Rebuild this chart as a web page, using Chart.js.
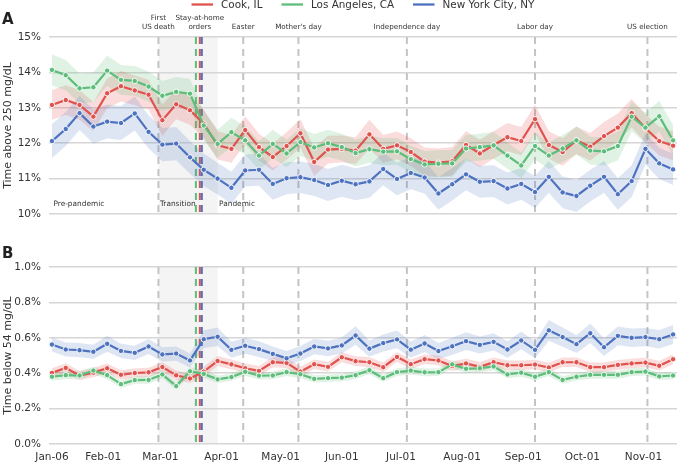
<!DOCTYPE html>
<html>
<head>
<meta charset="utf-8">
<style>
  html, body { margin: 0; padding: 0; background: #fff; }
  #wrap { position: relative; width: 677px; height: 463px; }
  #wrap canvas { position: absolute; left: 0; }
</style>
<script src="https://cdn.jsdelivr.net/npm/chart.js@4.4.1/dist/chart.umd.min.js"></script>
</head>
<body>
<div id="wrap">
  <canvas id="panel-a" width="677" height="232" style="top:0"></canvas>
  <canvas id="panel-b" width="677" height="231" style="top:232px"></canvas>
</div>
<script>
// weekly points, first week starts Jan 6 2020
const weekStart = "2020-01-06";

const cities = ["Cook, IL", "Los Angeles, CA", "New York City, NY"];
const colors = ["#e0524d", "#5dbd7a", "#4d72bf"];
const bandColors = ["rgba(224,82,77,0.2)", "rgba(93,189,122,0.2)", "rgba(77,114,191,0.18)"];

// A: time above 250 mg/dL (%)
const cookA = [13.08, 13.22, 13.08, 12.75, 13.41, 13.61, 13.49, 13.37, 12.65, 13.10, 12.93, 12.55, 11.94, 11.84, 12.37, 11.89,
  11.61, 11.92, 12.28, 11.47, 11.82, 11.84, 11.79, 12.25, 11.84, 11.94, 11.75, 11.48, 11.45, 11.49, 11.95, 11.71,
  11.95, 12.17, 12.06, 12.68, 11.95, 11.75, 12.08, 11.90, 12.20, 12.44, 12.85, 12.42, 12.06, 11.93];
const laA = [14.07, 13.92, 13.55, 13.58, 14.05, 13.79, 13.76, 13.60, 13.34, 13.45, 13.40, 12.50, 11.98, 12.31, 12.08, 11.65,
  11.98, 11.71, 12.03, 11.88, 12.00, 11.89, 11.72, 11.83, 11.76, 11.77, 11.55, 11.40, 11.42, 11.43, 11.85, 11.89,
  11.94, 11.65, 11.37, 11.92, 11.65, 11.85, 12.08, 11.79, 11.77, 11.92, 12.75, 12.44, 12.76, 12.08];
const nycA = [12.06, 12.40, 12.85, 12.47, 12.61, 12.57, 12.84, 12.32, 11.96, 11.99, 11.60, 11.25, 11.00, 10.74, 11.23, 11.25,
  10.85, 11.01, 11.04, 10.96, 10.82, 10.94, 10.84, 10.92, 11.27, 10.99, 11.16, 11.03, 10.58, 10.84, 11.12, 10.91,
  10.93, 10.72, 10.85, 10.62, 11.05, 10.61, 10.51, 10.80, 11.05, 10.56, 10.93, 11.84, 11.43, 11.26];

// half width of the shaded confidence band, panel A
const cookCiA = [0.42, 0.42, 0.42, 0.41, 0.42, 0.43, 0.42, 0.42, 0.44, 0.42, 0.41, 0.40, 0.40, 0.39, 0.39, 0.38,
  0.38, 0.39, 0.40, 0.40, 0.39, 0.38, 0.38, 0.41, 0.39, 0.39, 0.39, 0.40, 0.40, 0.40, 0.39, 0.39,
  0.39, 0.40, 0.40, 0.40, 0.39, 0.39, 0.39, 0.39, 0.40, 0.40, 0.40, 0.40, 0.41, 0.41];
const laCiA = [0.44, 0.43, 0.42, 0.42, 0.43, 0.42, 0.42, 0.42, 0.42, 0.42, 0.42, 0.41, 0.40, 0.41, 0.40, 0.40,
  0.40, 0.39, 0.39, 0.38, 0.38, 0.38, 0.38, 0.38, 0.38, 0.38, 0.38, 0.38, 0.38, 0.38, 0.38, 0.38,
  0.38, 0.37, 0.37, 0.38, 0.38, 0.38, 0.39, 0.39, 0.40, 0.41, 0.42, 0.42, 0.43, 0.43];
const nycCiA = [0.48, 0.48, 0.48, 0.48, 0.48, 0.48, 0.48, 0.47, 0.47, 0.47, 0.46, 0.46, 0.45, 0.45, 0.45, 0.45,
  0.45, 0.45, 0.45, 0.45, 0.45, 0.45, 0.45, 0.46, 0.46, 0.46, 0.46, 0.46, 0.46, 0.46, 0.45, 0.45,
  0.45, 0.45, 0.45, 0.45, 0.45, 0.45, 0.45, 0.45, 0.45, 0.45, 0.45, 0.44, 0.44, 0.44];

// B: time below 54 mg/dL (%)
const cookB = [0.402, 0.430, 0.387, 0.403, 0.428, 0.391, 0.401, 0.405, 0.435, 0.388, 0.370, 0.409, 0.469, 0.450, 0.428, 0.413,
  0.462, 0.458, 0.409, 0.451, 0.436, 0.490, 0.468, 0.462, 0.434, 0.492, 0.451, 0.479, 0.472, 0.440, 0.455, 0.436,
  0.462, 0.445, 0.445, 0.449, 0.432, 0.462, 0.462, 0.434, 0.434, 0.447, 0.455, 0.460, 0.442, 0.479];
const laB = [0.380, 0.389, 0.387, 0.415, 0.389, 0.338, 0.361, 0.362, 0.393, 0.327, 0.411, 0.396, 0.365, 0.378, 0.408, 0.386,
  0.387, 0.406, 0.394, 0.368, 0.372, 0.375, 0.389, 0.417, 0.372, 0.406, 0.415, 0.405, 0.406, 0.450, 0.425, 0.428,
  0.438, 0.393, 0.403, 0.380, 0.406, 0.362, 0.380, 0.391, 0.391, 0.391, 0.406, 0.409, 0.382, 0.387];
const nycB = [0.562, 0.534, 0.530, 0.521, 0.566, 0.526, 0.515, 0.551, 0.506, 0.511, 0.472, 0.592, 0.606, 0.532, 0.555, 0.536,
  0.509, 0.484, 0.511, 0.551, 0.540, 0.557, 0.613, 0.539, 0.570, 0.591, 0.533, 0.568, 0.525, 0.552, 0.581, 0.560,
  0.577, 0.534, 0.585, 0.532, 0.642, 0.604, 0.564, 0.626, 0.547, 0.611, 0.600, 0.604, 0.592, 0.619];

const cookCiB = [0.026, 0.026, 0.026, 0.026, 0.027, 0.026, 0.026, 0.026, 0.027, 0.026, 0.026, 0.027, 0.028, 0.028, 0.027, 0.027,
  0.028, 0.028, 0.027, 0.027, 0.027, 0.028, 0.028, 0.028, 0.027, 0.028, 0.027, 0.027, 0.027, 0.027, 0.027, 0.027,
  0.027, 0.027, 0.027, 0.027, 0.027, 0.027, 0.027, 0.027, 0.027, 0.027, 0.027, 0.027, 0.027, 0.028];
const laCiB = [0.022, 0.022, 0.022, 0.022, 0.022, 0.021, 0.021, 0.021, 0.022, 0.021, 0.022, 0.022, 0.021, 0.021, 0.022, 0.021,
  0.021, 0.022, 0.022, 0.021, 0.021, 0.021, 0.022, 0.022, 0.021, 0.022, 0.022, 0.022, 0.022, 0.023, 0.022, 0.022,
  0.022, 0.022, 0.022, 0.021, 0.022, 0.021, 0.021, 0.022, 0.022, 0.022, 0.022, 0.022, 0.021, 0.021];
const nycCiB = [0.040, 0.040, 0.040, 0.040, 0.045, 0.040, 0.040, 0.042, 0.040, 0.040, 0.040, 0.050, 0.052, 0.045, 0.045, 0.044,
  0.042, 0.042, 0.042, 0.044, 0.044, 0.045, 0.052, 0.046, 0.048, 0.050, 0.046, 0.048, 0.046, 0.048, 0.050, 0.048,
  0.049, 0.047, 0.050, 0.047, 0.058, 0.054, 0.050, 0.055, 0.050, 0.053, 0.052, 0.052, 0.052, 0.054];

const tickDates = ["2020-01-06", "2020-02-01", "2020-03-01", "2020-04-01", "2020-05-01", "2020-06-01",
  "2020-07-01", "2020-08-01", "2020-09-01", "2020-10-01", "2020-11-01"];
const tickLabels = ["Jan-06", "Feb-01", "Mar-01", "Apr-01", "May-01", "Jun-01",
  "Jul-01", "Aug-01", "Sep-01", "Oct-01", "Nov-01"];

const eventDates = ["2020-02-29", "2020-03-21", "2020-04-12", "2020-05-10", "2020-07-04", "2020-09-07", "2020-11-03"];
const eventLabels = [["First", "US death"], ["Stay-at-home", "orders"], ["Easter"], ["Mother's day"],
  ["Independence day"], ["Labor day"], ["US election"]];
// stay-at-home per city: CA, IL, NY
const stayHomeDates = ["2020-03-19", "2020-03-21", "2020-03-22"];
const stayHomeColors = [colors[1], colors[0], colors[2]];

const shadeFrom = "2020-02-29";
const shadeTo = "2020-03-30";
const periodLabels = ["Pre-pandemic", "Transition", "Pandemic"];
const periodStarts = ["2020-01-06", "2020-02-29", "2020-03-30"];

const dayOf = (s) => (Date.parse(s) - Date.parse(weekStart)) / 86400000;

const textColor = "#333";
const gridColor = "#d6d6d6";
const font = "'DejaVu Sans', sans-serif";

function buildDatasets(series, cis) {
  const ds = [];
  series.forEach((vals, k) => {
    ds.push({
      data: vals.map((v, i) => ({ x: 7 * i, y: v - cis[k][i] })),
      borderColor: "transparent", borderWidth: 0, pointRadius: 0, fill: false, order: 30 - 2 * k,
    });
    ds.push({
      data: vals.map((v, i) => ({ x: 7 * i, y: v + cis[k][i] })),
      borderColor: "transparent", borderWidth: 0, pointRadius: 0,
      fill: "-1", backgroundColor: bandColors[k], order: 29 - 2 * k,
    });
  });
  series.forEach((vals, k) => {
    ds.push({
      label: cities[k],
      data: vals.map((v, i) => ({ x: 7 * i, y: v })),
      borderColor: colors[k],
      borderWidth: 2.2,
      pointRadius: 2.7,
      pointBackgroundColor: colors[k],
      pointBorderColor: "#fff",
      pointBorderWidth: 0.9,
      fill: false,
      order: 3 - k,
    });
  });
  return ds;
}

function vline(ctx, x, top, bottom, color) {
  ctx.save();
  ctx.strokeStyle = color;
  ctx.lineWidth = 2;
  ctx.setLineDash([7, 5]);
  ctx.beginPath();
  ctx.moveTo(x, top);
  ctx.lineTo(x, bottom);
  ctx.stroke();
  ctx.restore();
}

function annotations(panel) {
  return {
    id: "annotations" + panel,
    beforeDraw(chart) {
      const { ctx, chartArea } = chart;
      const xs = chart.scales.x;
      const x0 = xs.getPixelForValue(dayOf(shadeFrom));
      const x1 = xs.getPixelForValue(dayOf(shadeTo));
      ctx.save();
      ctx.fillStyle = "#f4f4f4";
      ctx.fillRect(x0, chartArea.top, x1 - x0, chartArea.bottom - chartArea.top);
      ctx.restore();
    },
    beforeDatasetsDraw(chart) {
      const { ctx, chartArea } = chart;
      const xs = chart.scales.x;
      eventDates.forEach((d, i) => {
        if (i === 1) return;
        vline(ctx, xs.getPixelForValue(dayOf(d)), chartArea.top, chartArea.bottom, "#c4c4c4");
      });
      stayHomeDates.forEach((d, i) => {
        vline(ctx, xs.getPixelForValue(dayOf(d)), chartArea.top, chartArea.bottom, stayHomeColors[i]);
      });
    },
    afterDraw(chart) {
      const { ctx, chartArea } = chart;
      const xs = chart.scales.x;
      ctx.save();
      ctx.fillStyle = "#222";
      ctx.textBaseline = "middle";
      ctx.textAlign = "left";
      ctx.font = "bold 15px " + font;
      ctx.fillText(panel, 2, panel === "A" ? 20.5 : 22);
      if (panel === "A") {
        // event names above the panel
        ctx.fillStyle = textColor;
        ctx.font = "7.2px " + font;
        ctx.textAlign = "center";
        eventDates.forEach((d, i) => {
          const x = xs.getPixelForValue(dayOf(d));
          const lines = eventLabels[i];
          lines.forEach((t, j) => {
            ctx.fillText(t, x, 27.3 - (lines.length - 1 - j) * 9);
          });
        });
        // period names
        ctx.font = "7.4px " + font;
        ctx.textAlign = "left";
        periodStarts.forEach((d, i) => {
          ctx.fillText(periodLabels[i], xs.getPixelForValue(dayOf(d)) + 1.5, 204);
        });
        // legend
        ctx.font = "10.4px " + font;
        const lineLen = 21.5, gapText = 8, gapItem = 19;
        const widths = cities.map((c) => ctx.measureText(c).width);
        let total = 0;
        widths.forEach((w, i) => { total += lineLen + gapText + w + (i < widths.length - 1 ? gapItem : 0); });
        let x = (chartArea.left + chartArea.right) / 2 - total / 2;
        cities.forEach((c, i) => {
          ctx.strokeStyle = colors[i];
          ctx.lineWidth = 2.3;
          ctx.beginPath();
          ctx.moveTo(x, 4.5);
          ctx.lineTo(x + lineLen, 4.5);
          ctx.stroke();
          ctx.fillStyle = textColor;
          ctx.fillText(c, x + lineLen + gapText, 5);
          x += lineLen + gapText + widths[i] + gapItem;
        });
      }
      ctx.restore();
    },
  };
}

function yAxis(min, max, step, title, fmt) {
  return {
    type: "linear",
    min: min,
    max: max,
    afterFit: (s) => { s.width = 49; },
    border: { display: false },
    grid: { color: gridColor, lineWidth: 1.5, drawTicks: false },
    ticks: { stepSize: step, padding: 8, color: textColor, font: { family: font, size: 10.5 }, callback: fmt },
    title: { display: true, text: title, color: textColor, font: { family: font, size: 11 }, padding: { top: 2, bottom: 0 } },
  };
}

const xMin = -1.5;
const xMax = 317;

new Chart(document.getElementById("panel-a"), {
  type: "line",
  data: { datasets: buildDatasets([cookA, laA, nycA], [cookCiA, laCiA, nycCiA]) },
  options: {
    responsive: false,
    animation: false,
    events: [],
    layout: { autoPadding: false, padding: { top: 37, bottom: 18, left: 0, right: 0 } },
    plugins: { legend: { display: false }, tooltip: { enabled: false } },
    scales: {
      x: { type: "linear", min: xMin, max: xMax, display: false },
      y: yAxis(10, 15, 1, "Time above 250 mg/dL", (v) => v + "%"),
    },
  },
  plugins: [annotations("A")],
});

new Chart(document.getElementById("panel-b"), {
  type: "line",
  data: { datasets: buildDatasets([cookB, laB, nycB], [cookCiB, laCiB, nycCiB]) },
  options: {
    responsive: false,
    animation: false,
    events: [],
    layout: { autoPadding: false, padding: { top: 35, bottom: 0, left: 0, right: 0 } },
    plugins: { legend: { display: false }, tooltip: { enabled: false } },
    scales: {
      x: {
        type: "linear",
        min: xMin,
        max: xMax,
        afterFit: (s) => { s.height = 19; },
        afterBuildTicks: (s) => { s.ticks = tickDates.map((d) => ({ value: dayOf(d) })); },
        border: { display: false },
        grid: { display: false, drawTicks: false },
        ticks: {
          autoSkip: false, maxRotation: 0, padding: 7, color: textColor,
          font: { family: font, size: 10.5 },
          callback: (v) => tickLabels[tickDates.findIndex((d) => dayOf(d) === v)],
        },
      },
      y: yAxis(0, 1.0, 0.2, "Time below 54 mg/dL", (v) => v.toFixed(1) + "%"),
    },
  },
  plugins: [annotations("B")],
});
</script>
</body>
</html>
